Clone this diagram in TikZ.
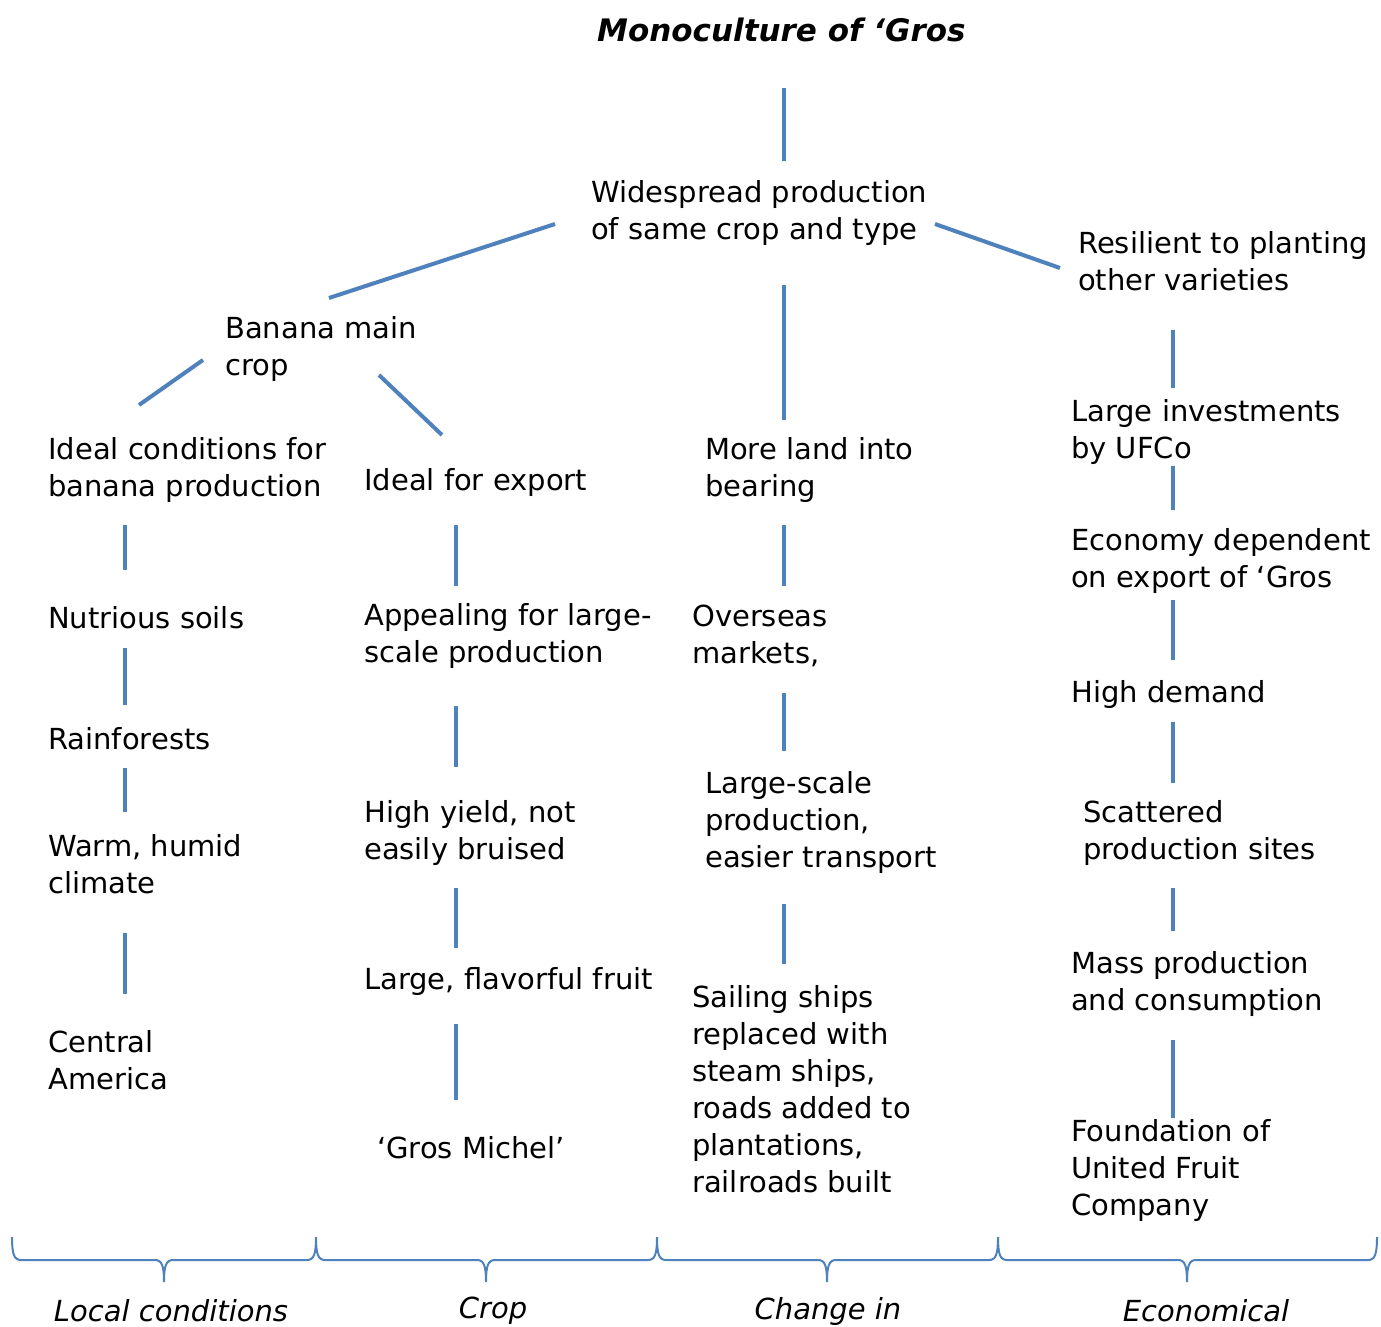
\documentclass[tikz,border=0pt]{standalone}
\usepackage{fontspec}
\setmainfont{DejaVu Sans}
\definecolor{lineblue}{RGB}{79,129,189}
\tikzset{
  txt/.style={inner sep=0pt, anchor=west, align=left, yshift=-3pt, font=\fontsize{29}{37}\selectfont},
  conn/.style={draw=lineblue, line width=4pt},
  bracepath/.style={draw=lineblue, line width=2pt},
  cat/.style={inner sep=0pt, anchor=center, font=\fontsize{29}{37}\selectfont\itshape},
}
\begin{document}
\begin{tikzpicture}[x=1pt,y=-1pt]
\useasboundingbox (0,0) rectangle (1381,1327);
% title
\node[inner sep=0pt, anchor=west, font=\fontsize{31}{40}\selectfont\bfseries\itshape] (title) at (597,30) {Monoculture of ‘Gros};
% texts
\node[txt] (wide) at (591,210) {Widespread production\\of same crop and type};
\node[txt] (resil) at (1078,258) {Resilient to planting\\other varieties};
\node[txt] (banana) at (225,346) {Banana main\\crop};
\node[txt] (idealc) at (48,467) {Ideal conditions for\\banana production};
\node[txt] (export) at (364,479) {Ideal for export};
\node[txt] (land) at (705,467) {More land into\\bearing};
\node[txt] (invest) at (1071,429) {Large investments\\by UFCo};
\node[txt] (econ) at (1071,558) {Economy dependent\\on export of ‘Gros};
\node[txt] (demand) at (1071,691) {High demand};
\node[txt] (scatter) at (1083,830) {Scattered\\production sites};
\node[txt] (mass) at (1071,981) {Mass production\\and consumption};
\node[txt] (found) at (1071,1167) {Foundation of\\United Fruit\\Company};
\node[txt] (soils) at (48,615) {Nutrious soils};
\node[txt] (rain) at (48,736) {Rainforests};
\node[txt] (warm) at (48,861) {Warm, humid\\climate};
\node[txt] (central) at (48,1057) {Central\\America};
\node[txt] (appeal) at (364,633) {Appealing for large-\\scale production};
\node[txt] (yield) at (364,830) {High yield, not\\easily bruised};
\node[txt] (fruit) at (364,978) {Large, flavorful fruit};
\node[txt] (gros) at (377,1145) {‘Gros Michel’};
\node[txt] (overseas) at (692,633) {Overseas\\markets,};
\node[txt] (scale) at (705,819) {Large-scale\\production,\\easier transport};
\node[txt] (ships) at (692,1086) {Sailing ships\\replaced with\\steam ships,\\roads added to\\plantations,\\railroads built};
% connector end points
\coordinate (a1) at (784,88);   \coordinate (a2) at (784,161);
\coordinate (b1) at (555,224);  \coordinate (b2) at (329,298);
\coordinate (c1) at (935,224);  \coordinate (c2) at (1060,268);
\coordinate (d1) at (784,285);  \coordinate (d2) at (784,420);
\coordinate (e1) at (203,360);  \coordinate (e2) at (139,405);
\coordinate (f1) at (379,375);  \coordinate (f2) at (442,435);
\coordinate (g1) at (125,525);  \coordinate (g2) at (125,570);
\coordinate (g3) at (125,648);  \coordinate (g4) at (125,705);
\coordinate (g5) at (125,768);  \coordinate (g6) at (125,812);
\coordinate (g7) at (125,933);  \coordinate (g8) at (125,994);
\coordinate (h1) at (456,525);  \coordinate (h2) at (456,586);
\coordinate (h3) at (456,706);  \coordinate (h4) at (456,767);
\coordinate (h5) at (456,888);  \coordinate (h6) at (456,948);
\coordinate (h7) at (456,1024); \coordinate (h8) at (456,1100);
\coordinate (i1) at (784,525);  \coordinate (i2) at (784,586);
\coordinate (i3) at (784,693);  \coordinate (i4) at (784,751);
\coordinate (i5) at (784,904);  \coordinate (i6) at (784,964);
\coordinate (j1) at (1173,330); \coordinate (j2) at (1173,388);
\coordinate (j3) at (1173,466); \coordinate (j4) at (1173,510);
\coordinate (j5) at (1173,600); \coordinate (j6) at (1173,660);
\coordinate (j7) at (1173,722); \coordinate (j8) at (1173,783);
\coordinate (j9) at (1173,888); \coordinate (j10) at (1173,931);
\coordinate (j11) at (1173,1040); \coordinate (j12) at (1173,1118);
\draw[conn] (a1) -- (a2);
\draw[conn] (b1) -- (b2);
\draw[conn] (c1) -- (c2);
\draw[conn] (d1) -- (d2);
\draw[conn] (e1) -- (e2);
\draw[conn] (f1) -- (f2);
\draw[conn] (g1) -- (g2); \draw[conn] (g3) -- (g4); \draw[conn] (g5) -- (g6); \draw[conn] (g7) -- (g8);
\draw[conn] (h1) -- (h2); \draw[conn] (h3) -- (h4); \draw[conn] (h5) -- (h6); \draw[conn] (h7) -- (h8);
\draw[conn] (i1) -- (i2); \draw[conn] (i3) -- (i4); \draw[conn] (i5) -- (i6);
\draw[conn] (j1) -- (j2); \draw[conn] (j3) -- (j4); \draw[conn] (j5) -- (j6);
\draw[conn] (j7) -- (j8); \draw[conn] (j9) -- (j10); \draw[conn] (j11) -- (j12);
% braces
\foreach \xa/\xt/\xb in {12/164/316, 316/486/657, 657/827/998, 998/1187/1377}{
  \draw[bracepath] (\xa,1237) .. controls (\xa,1254) and (\xa+2,1260) .. (\xa+9,1260)
    -- (\xt-9,1260) .. controls (\xt-2,1260) and (\xt,1266) .. (\xt,1282)
    .. controls (\xt,1266) and (\xt+2,1260) .. (\xt+9,1260)
    -- (\xb-9,1260) .. controls (\xb-2,1260) and (\xb,1254) .. (\xb,1237);
}
% category labels
\node[cat] (catlocal) at (171,1311) {Local conditions};
\node[cat] (catcrop) at (493,1311) {Crop};
\node[cat] (catchange) at (828,1311) {Change in};
\node[cat] (catecon) at (1206,1311) {Economical};
\end{tikzpicture}
\end{document}
